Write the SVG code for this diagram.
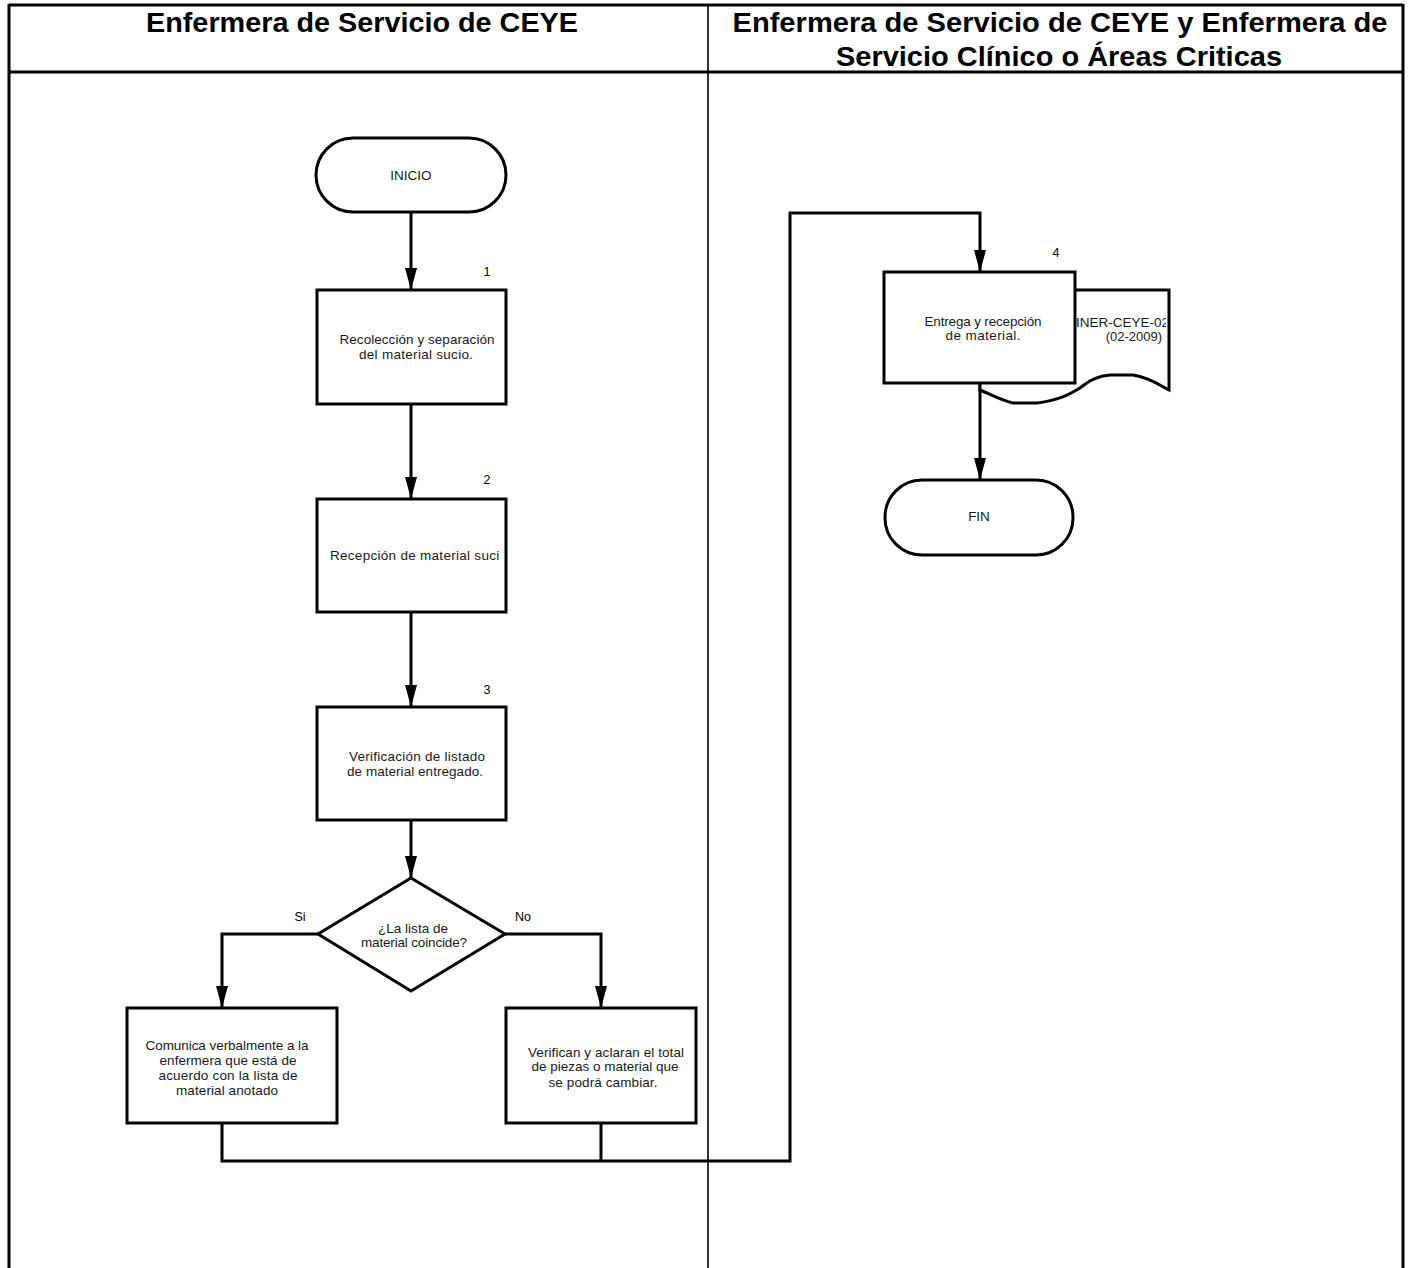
<svg xmlns="http://www.w3.org/2000/svg" width="1412" height="1268" viewBox="0 0 1412 1268">
<style>
.hdr{font-family:"Liberation Sans",Arial,sans-serif;font-weight:bold;font-size:28px;fill:#000;text-anchor:middle}
.t{font-family:"Liberation Sans",Arial,sans-serif;font-size:13.5px;fill:#1a1a1a;text-anchor:middle}
.n{font-family:"Liberation Sans",Arial,sans-serif;font-size:12.5px;fill:#000;text-anchor:middle}
.shape{fill:#fff;stroke:#000;stroke-width:3}
.conn{fill:none;stroke:#000;stroke-width:3}
.grid{stroke:#000;fill:none}
</style>
<defs>
<marker id="arr" markerUnits="userSpaceOnUse" markerWidth="22" markerHeight="12" refX="22" refY="6" orient="auto" viewBox="0 0 22 12">
<path d="M0,0 L22,6 L0,12 Z" fill="#000"/>
</marker>
<clipPath id="clip2"><rect x="318" y="500" width="182" height="111"/></clipPath>
<clipPath id="clipDoc"><rect x="1076" y="292" width="90" height="96"/></clipPath>
</defs>
<rect width="1412" height="1268" fill="#fff"/>
<g id="table">
<line class="grid" x1="9" y1="5" x2="1403" y2="5" stroke-width="3"/>
<line class="grid" x1="9" y1="72" x2="1403" y2="72" stroke-width="3"/>
<line class="grid" x1="9" y1="4" x2="9" y2="1268" stroke-width="3"/>
<line class="grid" x1="1403" y1="4" x2="1403" y2="1268" stroke-width="3"/>
<line class="grid" x1="708" y1="5" x2="708" y2="1268" stroke-width="1.6"/>
<text class="hdr" x="362" y="32" textLength="432" lengthAdjust="spacingAndGlyphs">Enfermera de Servicio de CEYE</text>
<text class="hdr" x="1060" y="32" textLength="655" lengthAdjust="spacingAndGlyphs">Enfermera de Servicio de CEYE y Enfermera de</text>
<text class="hdr" x="1059" y="66" textLength="446" lengthAdjust="spacingAndGlyphs">Servicio Clínico o Áreas Criticas</text>
</g>
<g id="connectors">
<line class="conn" x1="411" y1="212" x2="411" y2="290" marker-end="url(#arr)"/>
<line class="conn" x1="411" y1="404" x2="411" y2="499" marker-end="url(#arr)"/>
<line class="conn" x1="411" y1="612" x2="411" y2="707" marker-end="url(#arr)"/>
<line class="conn" x1="411" y1="820" x2="411" y2="878" marker-end="url(#arr)"/>
<polyline class="conn" points="318,934 222,934 222,1008" marker-end="url(#arr)"/>
<polyline class="conn" points="505,934 601,934 601,1008" marker-end="url(#arr)"/>
<polyline class="conn" points="222,1123 222,1161 790,1161 790,213 980,213 980,272" marker-end="url(#arr)"/>
<line class="conn" x1="601" y1="1123" x2="601" y2="1161"/>
<line class="conn" x1="980" y1="383" x2="980" y2="480" marker-end="url(#arr)"/>
</g>
<g id="inicio">
<rect class="shape" x="316" y="138" width="190" height="74" rx="37" ry="37"/>
<text class="t" x="411" y="180">INICIO</text>
</g>
<g id="paso1">
<rect class="shape" x="317" y="290" width="189" height="114"/>
<text class="n" x="487" y="276">1</text>
<text class="t" x="417" y="344" textLength="155">Recolección y separación</text>
<text class="t" x="416" y="359" textLength="114">del material sucio.</text>
</g>
<g id="paso2">
<rect class="shape" x="317" y="499" width="189" height="113"/>
<text class="n" x="487" y="484">2</text>
<text x="330" y="560" clip-path="url(#clip2)" font-family="Liberation Sans, Arial, sans-serif" font-size="13.5" fill="#1a1a1a" textLength="177">Recepción de material sucio</text>
</g>
<g id="paso3">
<rect class="shape" x="317" y="707" width="189" height="113"/>
<text class="n" x="487" y="694">3</text>
<text class="t" x="417" y="761" textLength="136">Verificación de listado</text>
<text class="t" x="415" y="776" textLength="136">de material entregado.</text>
</g>
<g id="decision">
<polygon class="shape" points="411,878 505,934 411,991 318,934"/>
<text class="t" x="413" y="933" textLength="70">¿La lista de</text>
<text class="t" x="414" y="947" textLength="106">material coincide?</text>
<text class="n" x="300" y="921">Si</text>
<text class="n" x="523" y="921">No</text>
</g>
<g id="comunica">
<rect class="shape" x="127" y="1008" width="210" height="115"/>
<text class="t" x="227" y="1050" textLength="163">Comunica verbalmente a la</text>
<text class="t" x="228" y="1065" textLength="137">enfermera que está de</text>
<text class="t" x="228" y="1080" textLength="139">acuerdo con la lista de</text>
<text class="t" x="227" y="1095" textLength="102">material anotado</text>
</g>
<g id="verifican">
<rect class="shape" x="506" y="1008" width="190" height="115"/>
<text class="t" x="606" y="1057" textLength="156">Verifican y aclaran el total</text>
<text class="t" x="605" y="1071" textLength="147">de piezas o material que</text>
<text class="t" x="603" y="1087" textLength="109">se podrá cambiar.</text>
</g>
<g id="documento">
<path class="shape" d="M980,290 L1169,290 L1169,390 C1160,386 1152,378 1133,375 L1110,375 C1098,376 1090,380 1080,388 C1070,394 1060,400 1037,403 L1013,403 C1000,400 990,394 980,390 Z"/>
<g clip-path="url(#clipDoc)">
<text x="1076" y="327" font-family="Liberation Sans, Arial, sans-serif" font-size="13.5" fill="#1a1a1a">INER-CEYE-02</text>
<text x="1162" y="341" font-family="Liberation Sans, Arial, sans-serif" font-size="13" fill="#1a1a1a" text-anchor="end">(02-2009)</text>
</g>
</g>
<g id="paso4">
<rect class="shape" x="884" y="272" width="191" height="111"/>
<text class="n" x="1056" y="257">4</text>
<text class="t" x="983" y="326" textLength="117">Entrega y recepción</text>
<text class="t" x="983" y="340" textLength="75">de material.</text>
</g>
<g id="fin">
<rect class="shape" x="885" y="480" width="188" height="75" rx="37" ry="37"/>
<text class="t" x="979" y="521">FIN</text>
</g>
</svg>
